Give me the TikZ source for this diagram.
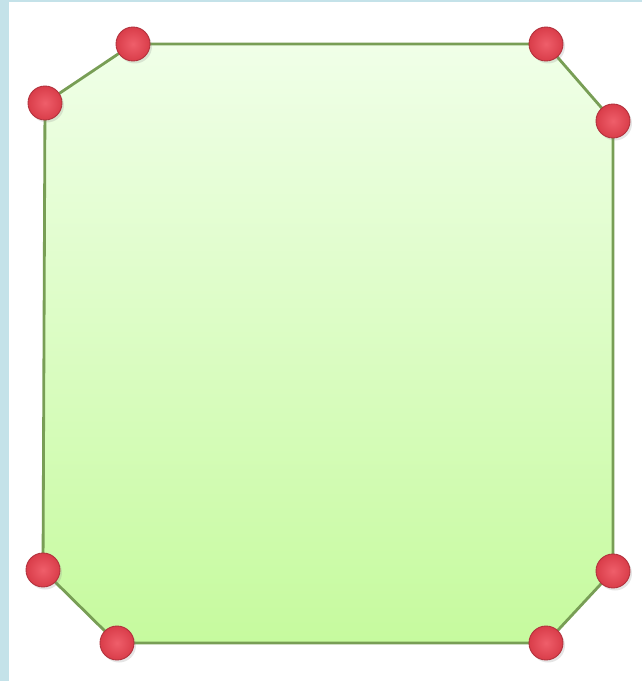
\documentclass[tikz,border=0pt]{standalone}
\usepackage{tikz}
\usetikzlibrary{shadows}
\definecolor{frameblue}{RGB}{196,226,233}
\definecolor{leafedge}{RGB}{120,158,85}
\definecolor{leaftop}{RGB}{240,255,232}
\definecolor{leafbot}{RGB}{198,250,158}
\definecolor{cherry}{RGB}{236,66,80}
\tikzset{
  face/.style={draw=leafedge,line width=1.6pt,top color=leaftop,bottom color=leafbot},
  vertex/.style={circle,minimum size=6.8mm,inner sep=0pt,draw=cherry!75!black,line width=0.5pt,
    inner color=cherry!85!white,outer color=cherry!92!black,
    drop shadow={opacity=0.2,shadow xshift=0.4mm,shadow yshift=-0.5mm}},
}
\begin{document}
\begin{tikzpicture}[x=0.2mm,y=-0.2mm]
    \useasboundingbox (0,0) rectangle (642,681);
    \fill[white] (0,0) rectangle (642,681);
    \fill[frameblue] (0,0) rectangle (9,681);
    \fill[frameblue] (0,0) rectangle (642,2.5);
    % corners of the octagon
    \coordinate (tl) at (133,44);  \coordinate (tr) at (546,44);
    \coordinate (rt) at (613,121); \coordinate (rb) at (613,571);
    \coordinate (br) at (546,643); \coordinate (bl) at (117,643);
    \coordinate (lb) at (43,570);  \coordinate (lt) at (45,103);
    \draw[face] (tl) -- (tr) -- (rt) -- (rb) -- (br) -- (bl) -- (lb) -- (lt) -- cycle;
    \foreach \v in {tl,tr,rt,rb,br,bl,lb,lt}
      \node[vertex] (n\v) at (\v) {};
  \end{tikzpicture}
\end{document}
